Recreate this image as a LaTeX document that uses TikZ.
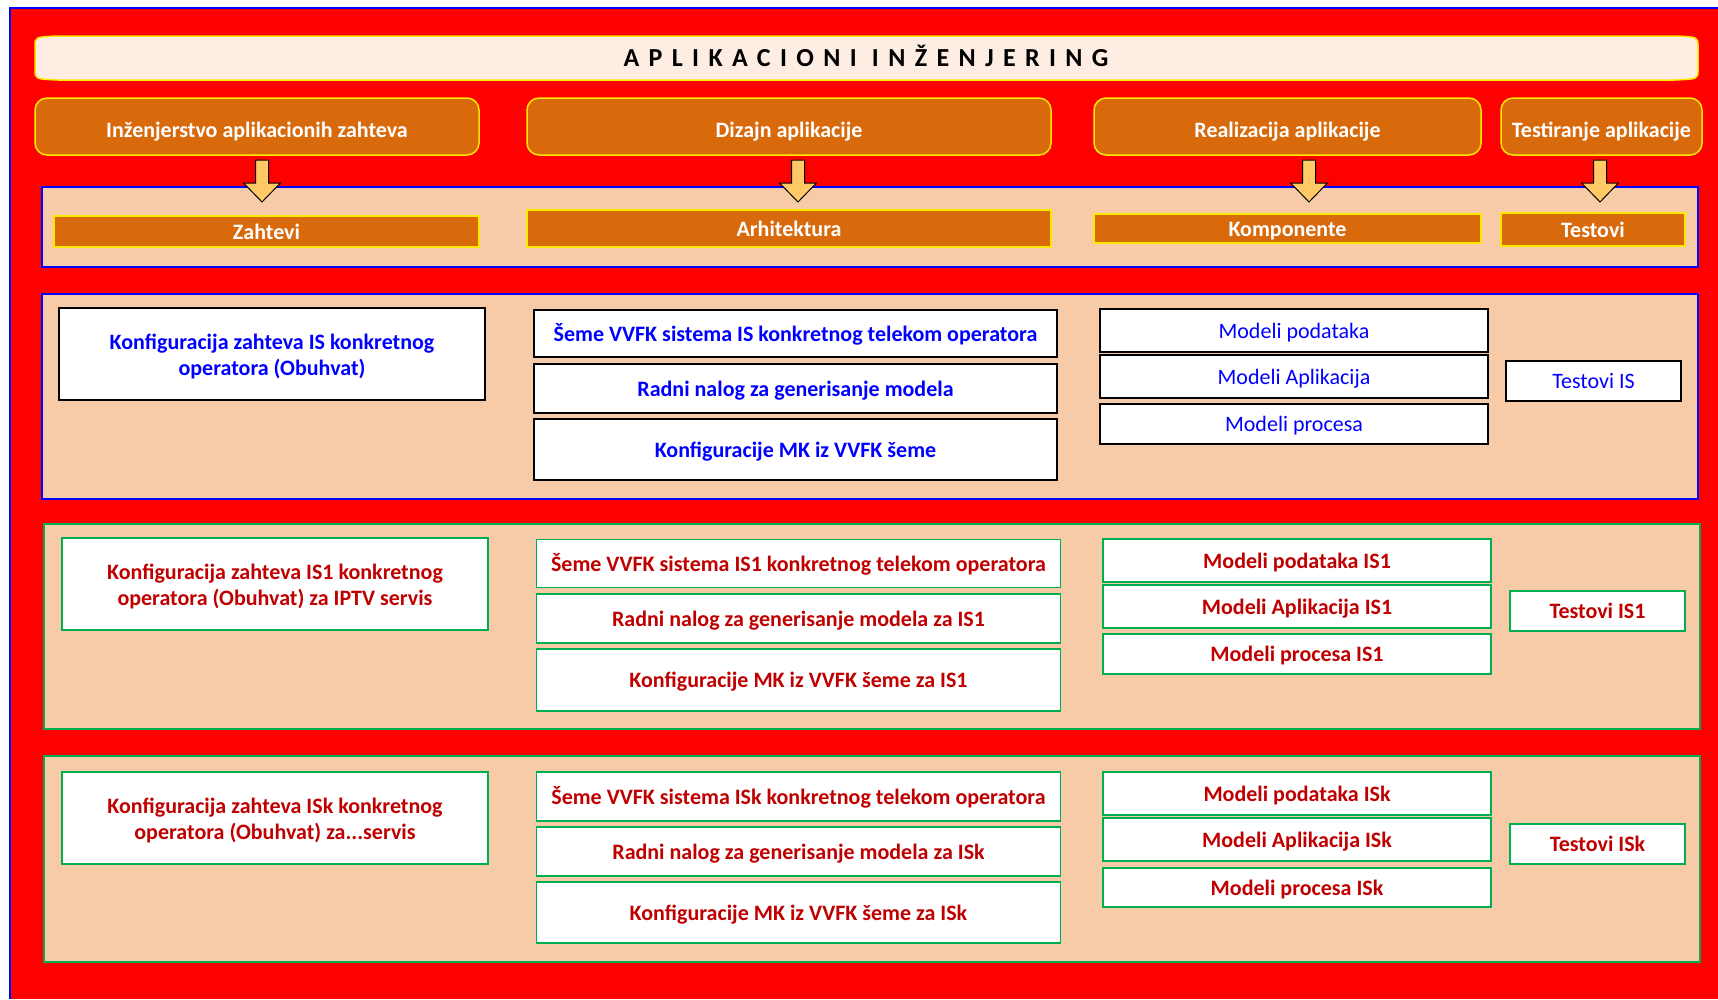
\documentclass[tikz,border=0pt]{standalone}
\usepackage{fontspec}
\setmainfont{Carlito}

\definecolor{bgred}{RGB}{255,0,0}
\definecolor{hdorange}{RGB}{217,106,12}
\definecolor{bandpeach}{RGB}{248,203,168}
\definecolor{titlecream}{RGB}{253,237,226}
\definecolor{arrowgold}{RGB}{255,201,102}
\definecolor{darkred}{RGB}{192,0,0}
\definecolor{boxgreen}{RGB}{0,176,80}
\definecolor{edgeyellow}{RGB}{255,232,0}

\newcommand{\firstline}{\rule{0pt}{20.5pt}}

\tikzset{
	txt/.style={font=\fontsize{22}{26}\selectfont},
	txtb/.style={font=\fontsize{22}{26}\selectfont\bfseries},
	oneline/.style={text height=15.5pt, text depth=0pt},
	hdbox/.style={draw=edgeyellow, line width=1.5pt, fill=hdorange, rounded corners=12pt, text=white, txtb, text height=22pt, text depth=0pt},
	lblbox/.style={draw=edgeyellow, line width=2pt, fill=hdorange, text=white, txtb, text height=16.5pt, text depth=0pt},
	isband/.style={draw=blue, line width=1.5pt, fill=bandpeach},
	oneband/.style={draw=boxgreen, line width=1.5pt, fill=bandpeach},
	isbox/.style={draw=black, line width=1.6pt, fill=white, text=blue, txtb},
	ismodel/.style={isbox, txt},
	onebox/.style={draw=boxgreen, line width=1.6pt, fill=white, text=darkred, txtb},
	arrowblk/.style={fill=arrowgold, draw=black, line width=1pt, line join=miter}
}

\begin{document}
\begin{tikzpicture}[x=1pt,y=-1pt, every node/.style={align=center, inner sep=0pt}]
		\useasboundingbox (0,0) rectangle (1718,999);
		
		% background
		\fill[bgred] (10,8) rectangle (1718,999);
		\draw[blue, line width=1.5pt] (10,999) -- (10,8) -- (1718,8);
		
		% title
		\draw[fill=titlecream, draw=edgeyellow, line width=1.5pt] (35,46) .. controls (35,37) .. (58,36) -- (1675,36) .. controls (1698,37) .. (1698,46) -- (1698,70) .. controls (1698,79) .. (1675,80) -- (58,80) .. controls (35,79) .. (35,70) -- cycle;
		\node[font=\fontsize{26}{30}\selectfont\bfseries\addfontfeature{LetterSpace=36}] (title) at (866,55.8) {APLIKACIONI INŽENJERING};
		
		% phases
		\node[hdbox, minimum width=444, minimum height=57] (h1) at (257,126.5) {Inženjerstvo aplikacionih zahteva};
		\node[hdbox, minimum width=524, minimum height=57] (h2) at (789,126.5) {Dizajn aplikacije};
		\node[hdbox, minimum width=387, minimum height=57] (h3) at (1287.5,126.5) {Realizacija aplikacije};
		\node[hdbox, minimum width=201, minimum height=57] (h4) at (1601.5,126.5) {Testiranje aplikacije};
		
		% results
		\draw[isband] (42,187) rectangle (1698,267);
		\node[lblbox, minimum width=425, minimum height=31] (l1) at (266.5,231.5) {Zahtevi};
		\node[lblbox, minimum width=524, minimum height=37] (l2) at (789,228.5) {Arhitektura};
		\node[lblbox, minimum width=387, minimum height=29] (l3) at (1287.5,228.5) {Komponente};
		\node[lblbox, minimum width=184, minimum height=33] (l4) at (1593,229.5) {Testovi};
		
		\foreach \ax in {262,798,1309,1600}
		\draw[arrowblk] (\ax-6.5,160) -- (\ax+6.5,160) -- (\ax+6.5,183) -- (\ax+18.5,183) -- (\ax,202) -- (\ax-18.5,183) -- (\ax-6.5,183) -- cycle;
		
		% IS
		\draw[isband] (42,294) rectangle (1698,499);
		\node[isbox, minimum width=426, minimum height=92] (zIS) at (272,354) {\firstline Konfiguracija zahteva IS konkretnog\\operatora (Obuhvat)};
		\node[isbox, oneline, minimum width=523, minimum height=47] (sIS) at (795.5,333.5) {Šeme VVFK sistema IS konkretnog telekom operatora};
		\node[isbox, oneline, minimum width=523, minimum height=49] (rIS) at (795.5,388.5) {Radni nalog za generisanje modela};
		\node[isbox, oneline, minimum width=523, minimum height=61] (kIS) at (795.5,449.5) {Konfiguracije MK iz VVFK šeme};
		\node[ismodel, oneline, minimum width=388, minimum height=43] (mpIS) at (1294,330.5) {Modeli podataka};
		\node[ismodel, oneline, minimum width=388, minimum height=43] (maIS) at (1294,376.5) {Modeli Aplikacija};
		\node[ismodel, oneline, minimum width=388, minimum height=40] (mrIS) at (1294,424) {Modeli procesa};
		\node[ismodel, oneline, minimum width=175, minimum height=40] (tIS) at (1593.5,381) {Testovi IS};
		
		% IS1
		\draw[oneband] (44,524) rectangle (1700,729);
		\node[onebox, minimum width=426, minimum height=92] (zIS1) at (275,584) {\firstline Konfiguracija zahteva IS1 konkretnog\\operatora (Obuhvat) za IPTV servis};
		\node[onebox, oneline, minimum width=524, minimum height=48] (sIS1) at (798.5,563.5) {Šeme VVFK sistema IS1 konkretnog telekom operatora};
		\node[onebox, oneline, minimum width=524, minimum height=49] (rIS1) at (798.5,618.5) {Radni nalog za generisanje modela za IS1};
		\node[onebox, oneline, minimum width=524, minimum height=62] (kIS1) at (798.5,680) {Konfiguracije MK iz VVFK šeme za IS1};
		\node[onebox, oneline, minimum width=388, minimum height=43] (mpIS1) at (1297,560.5) {Modeli podataka IS1};
		\node[onebox, oneline, minimum width=388, minimum height=43] (maIS1) at (1297,606.5) {Modeli Aplikacija IS1};
		\node[onebox, oneline, minimum width=388, minimum height=40] (mrIS1) at (1297,654) {Modeli procesa IS1};
		\node[onebox, oneline, minimum width=175, minimum height=40] (tIS1) at (1597.5,611) {Testovi IS1};
		
		% ISk
		\draw[oneband] (44,756) rectangle (1700,962);
		\node[onebox, minimum width=426, minimum height=92] (zISk) at (275,818) {\firstline Konfiguracija zahteva ISk konkretnog\\operatora (Obuhvat) za...servis};
		\node[onebox, oneline, minimum width=524, minimum height=49] (sISk) at (798.5,796.5) {Šeme VVFK sistema ISk konkretnog telekom operatora};
		\node[onebox, oneline, minimum width=524, minimum height=49] (rISk) at (798.5,851.5) {Radni nalog za generisanje modela za ISk};
		\node[onebox, oneline, minimum width=524, minimum height=61] (kISk) at (798.5,912.5) {Konfiguracije MK iz VVFK šeme za ISk};
		\node[onebox, oneline, minimum width=388, minimum height=43] (mpISk) at (1297,793.5) {Modeli podataka ISk};
		\node[onebox, oneline, minimum width=388, minimum height=43] (maISk) at (1297,839.5) {Modeli Aplikacija ISk};
		\node[onebox, oneline, minimum width=388, minimum height=39] (mrISk) at (1297,887.5) {Modeli procesa ISk};
		\node[onebox, oneline, minimum width=175, minimum height=40] (tISk) at (1597.5,844) {Testovi ISk};
		
	\end{tikzpicture}
\end{document}
